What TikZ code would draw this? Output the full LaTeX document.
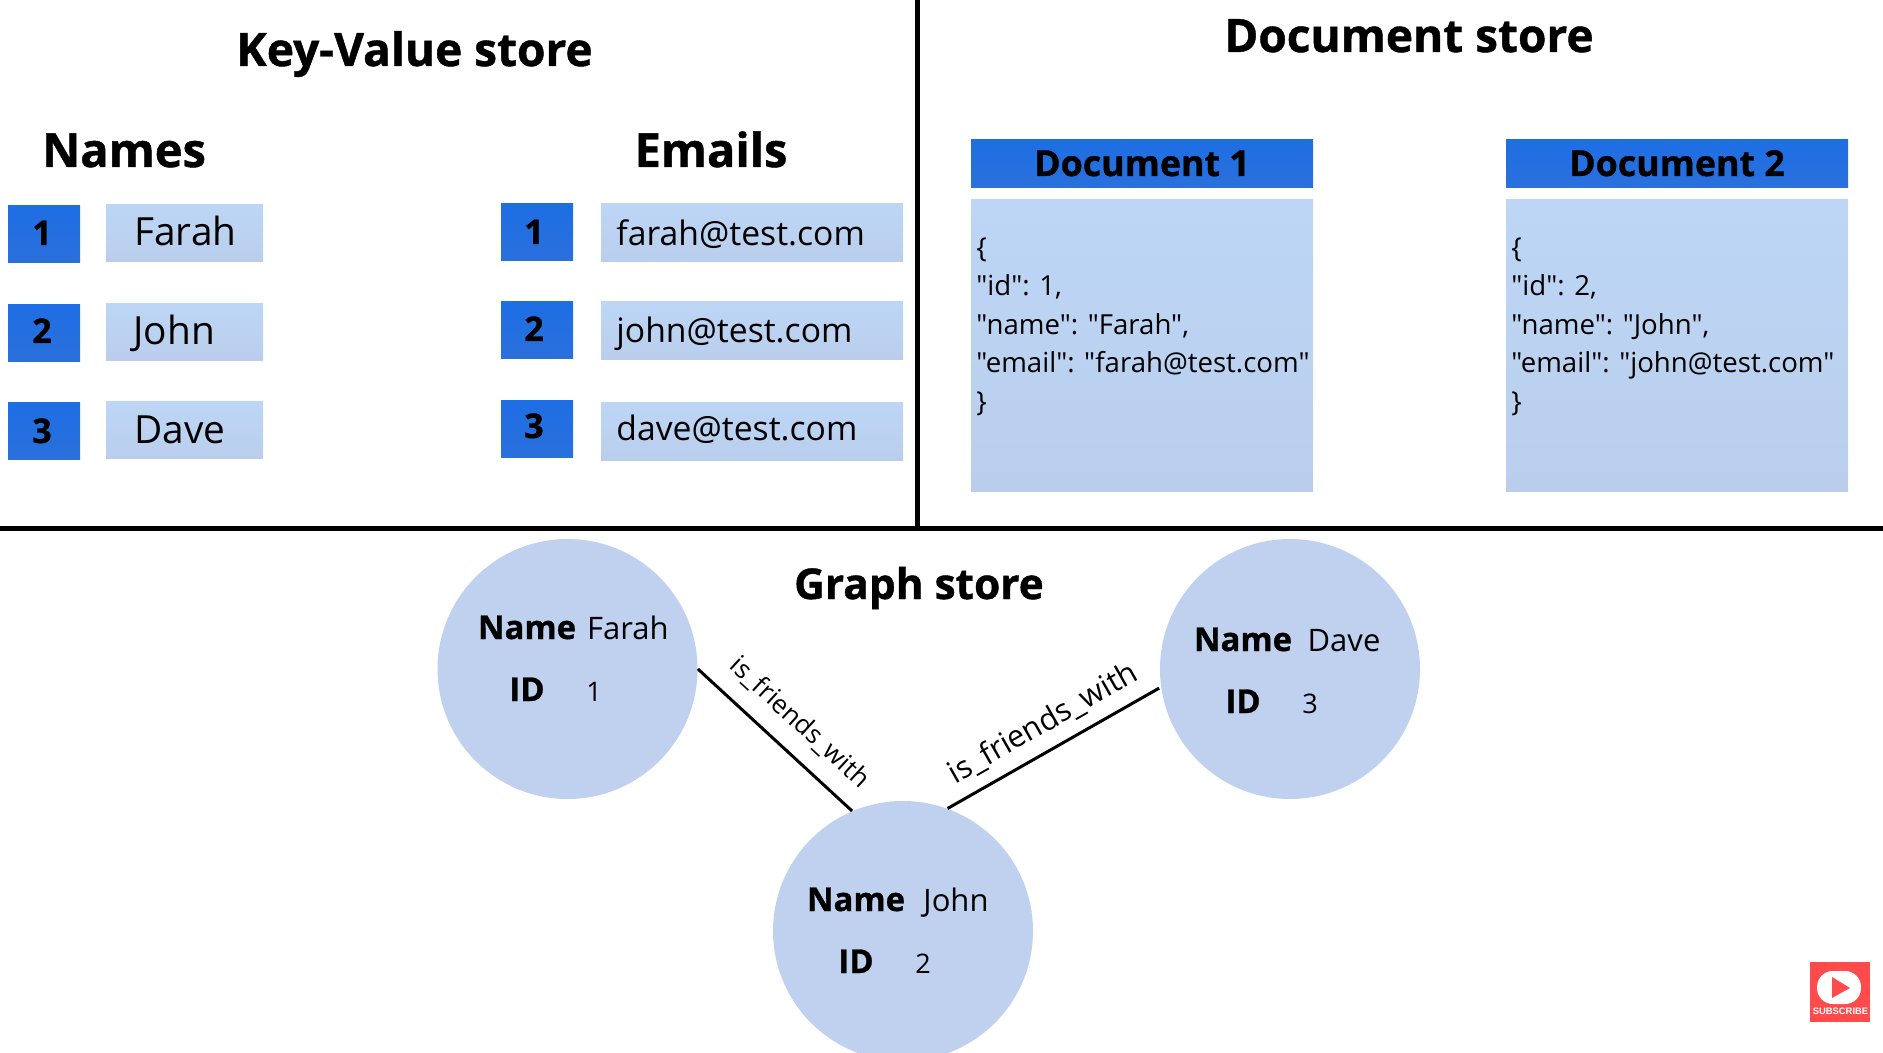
\documentclass[tikz,border=0pt]{standalone}
\usepackage{fontspec}
\setmainfont{Open Sans}
\newfontfamily\plainf{Open Sans}
\newfontfamily\xb[BoldFeatures={FakeBold=0.9}]{Open Sans}
\newcommand{\fsz}[1]{\fontsize{#1}{1.2\dimexpr#1pt\relax}\selectfont}
\definecolor{dk}{HTML}{1E6EE4}
\definecolor{dkb}{HTML}{2A70DC}
\definecolor{lt}{HTML}{BDD6F6}
\definecolor{ltb}{HTML}{BACEEC}
\definecolor{circ}{HTML}{BFD1EE}
\definecolor{yt}{HTML}{FF4B4B}
\tikzset{
 dkbox/.style={rectangle,inner sep=0pt,minimum width=#1,top color=dk,bottom color=dkb,draw=none},
 ltbox/.style={rectangle,inner sep=0pt,top color=lt,bottom color=ltb,draw=none},
 title/.style={inner sep=0pt,anchor=base,font=\xb\bfseries\fsz{23}},
 sub/.style={inner sep=0pt,anchor=base,font=\xb\bfseries\fsz{23.5}},
 num/.style={inner sep=0pt,anchor=base,font=\xb\bfseries\fsz{17}},
 txt/.style={inner sep=0pt,anchor=base west,font=\fsz{19.4}},
 mail/.style={inner sep=0pt,anchor=base west,font=\fsz{16.85}},
 dochead/.style={inner sep=0pt,anchor=base,font=\xb\bfseries\fsz{17.9}},
 doctext/.style={inner sep=0pt,anchor=north west,align=left,font=\plainf\fontsize{13.8}{19.25}\selectfont},
 gnode/.style={circle,fill=circ,draw=none,inner sep=0pt,minimum size=130pt},
 gb/.style={inner sep=0pt,anchor=base,font=\xb\bfseries\fsz{16.4}},
 gt/.style={inner sep=0pt,anchor=base,font=\fsz{15.5}},
 gd/.style={inner sep=0pt,anchor=base,font=\fsz{13.5}},
 rule/.style={line width=2.5pt,black},
 edge/.style={line width=1.5pt,black},
}
\begin{document}
\begin{tikzpicture}[x=0.5pt,y=-0.5pt]
\useasboundingbox (0,0) rectangle (1883,1053);
% panel rules
\coordinate (vt) at (917.5,0); \coordinate (vb) at (917.5,528);
\coordinate (hl) at (0,528); \coordinate (hr) at (1883,528);
\draw[rule] (vt) -- (vb);
\draw[rule] (hl) -- (hr);
% key-value
\node[title] (kvt) at (414.5,66) {Key-Value store};
\node[sub] (nh) at (124,167) {Names};
\node[sub] (eh) at (711,167) {Emails};
\foreach \n/\y/\by/\lab/\lx/\d in {a/234/246/Farah/134/1, b/333/344/John/133/2, c/431/444/Dave/134/3}{
  \node[dkbox=36pt,minimum height=28.5pt] (k\n) at (44,\y) {};
  \node[ltbox,minimum width=78.5pt,minimum height=28.5pt] (v\n) at (184.5,\y-1) {};
  \node[num] (kt\n) at (42,\by-1) {\d};
  \node[txt] (vt\n) at (\lx,\by) {\lab};
}
\foreach \n/\y/\ly/\by/\lab/\d in {a/232/233/246/farah@test.com/1, b/330/331/343/john@test.com/2, c/429/431/440/dave@test.com/3}{
  \node[dkbox=36pt,minimum height=28.5pt] (m\n) at (537,\y) {};
  \node[ltbox,minimum width=151pt,minimum height=29pt] (e\n) at (752,\ly) {};
  \node[num] (mt\n) at (534,\by-2) {\d};
  \node[mail] (et\n) at (616,\by) {\lab};
}
% documents
\foreach \n/\x/\k/\nm/\ml in {a/1142/1/Farah/farah, b/1677/2/John/john}{
  \node[dkbox=171pt,minimum height=24pt] (dh\n) at (\x,164) {};
  \node[dochead] (dt\n) at (\x,176) {Document \k};
  \node[ltbox,minimum width=171pt,minimum height=146pt] (db\n) at (\x,345.5) {};
  \node[doctext] (dx\n) at (\x-166,237) {\{\\"id": \k,\\"name": "\nm",\\"email": "\ml @test.com"\\\}};
}
\node[title] (dst) at (1409,52) {Document store};
% graph
\node[title,font=\xb\bfseries\fsz{21.2}] (gst) at (919,599) {Graph store};
\node[gnode] (farah) at (567.5,669) {};
\node[gnode] (dave) at (1290,669) {};
\node[gnode] (john) at (903,931) {};
\draw[edge] (farah.0) -- node[pos=0.53,sloped,above=8pt,inner sep=0pt,font=\fsz{13}] (l1) {is\_friends\_with} (john.113);
\draw[edge,shorten >=1pt] (john.70) -- node[pos=0.51,sloped,above=5.5pt,inner sep=0pt,font=\fsz{15.4}] (l2) {is\_friends\_with} (dave.188);
\node[gb] (fn) at (527,639) {Name};
\node[gt] (fv) at (628,639) {Farah};
\node[gb] (fi) at (527,701) {ID};
\node[gd] (fd) at (594,701) {1};
\node[gb] (dn) at (1243,651) {Name};
\node[gt] (dv) at (1344,651) {Dave};
\node[gb] (di) at (1243,713) {ID};
\node[gd] (dd) at (1310,713) {3};
\node[gb] (jn) at (856,911) {Name};
\node[gt] (jv) at (956,911) {John};
\node[gb] (ji) at (856,973) {ID};
\node[gd] (jd) at (923,973) {2};
% subscribe badge
\fill[yt] (1810,962) rectangle (1870,1022);
\fill[white,rounded corners=8pt] (1817,971) rectangle (1861,1004);
\fill[yt] (1832,977) -- (1850,988) -- (1832,998) -- cycle;
\node[inner sep=0pt,text=white,font=\fontspec{Liberation Sans}\bfseries\fsz{4.7}] (sb) at (1840.5,1011) {SUBSCRIBE};
\end{tikzpicture}
\end{document}
